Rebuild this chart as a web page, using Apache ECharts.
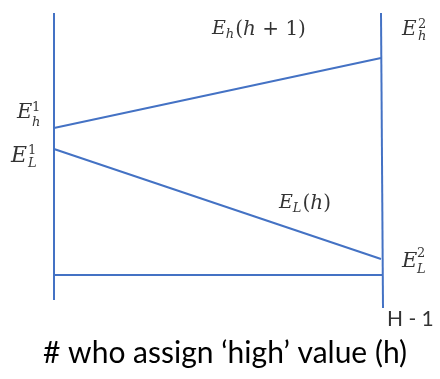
<!DOCTYPE html>
<html><head><meta charset="utf-8">
<script src="https://cdn.jsdelivr.net/npm/echarts@6/dist/echarts.min.js"></script>
<style>html,body{margin:0;padding:0;background:#fff}#c{width:440px;height:379px}</style>
</head><body><div id="c"></div>
<script>
// ---- data (arbitrary units: h along x, expected value E along y) ----
const hRange = [0, 330];
const eRange = [-40, 262];
const leftAxisLine = [[0, 262], [0, -25]];
const rightAxisLine = [[327, 262], [329, -33]];
const baseLine = [[0, 0], [329, 0]];
const highLine = [[0, 147], [327, 217]];   // E_h : from E_h^1 to E_h^2
const lowLine = [[0, 126], [327, 16]];     // E_L : from E_L^1 to E_L^2
const funcLabelText = ['{E|E}{sub|h}{p|(}{i|h}{p| + 1)}', '{E|E}{sub|L}{p|(}{i|h}{p|)}'];
const funcLabelAt = [[158, 245.5], [225, 71.5]];
const endLabelBase = ['E', 'E', 'E', 'E'];
const endLabelSup = ['1', '1', '2', '2'];
const endLabelSub = ['h', 'L', 'h', 'L'];
const endTickLabel = 'H - 1';
const xTitle = '# who assign \u2018high\u2019 value (h)';

const BLUE = '#4472C4';
const MATH = 'DejaVu Serif';
const rich = {
  E: {fontFamily: MATH, fontStyle: 'italic', fontSize: 19, lineHeight: 24, color: '#000'},
  i: {fontFamily: MATH, fontStyle: 'italic', fontSize: 20, lineHeight: 24, color: '#000'},
  p: {fontFamily: MATH, fontSize: 20, lineHeight: 24, color: '#000'},
  sub: {fontFamily: MATH, fontStyle: 'italic', fontSize: 13, lineHeight: 10, verticalAlign: 'bottom', color: '#000', padding: [0, 1, 0, 0]}
};

function lineSeries(data) {
  return {type: 'line', data: data, symbol: 'none', silent: true, clip: false,
    lineStyle: {color: BLUE, width: 2}, animation: false};
}

// anchors for end labels: E_h^1, E_L^1 (left ends), E_h^2 (top of right axis), E_L^2 (right end of E_L)
const endAnchors = [highLine[0], lowLine[0], rightAxisLine[0], lowLine[1]];
const baseOffsets = [[-37, -15.5], [-43, 7], [21, 16.5], [21, 3]];
const baseSizes = [21, 22, 20, 21];
const scriptOffsets = [[-22, -13], [-26, 8], [37, 18], [36, 2.5]];
const scriptLH = [14.5, 13.5, 12, 16];

const labelData = [];
funcLabelText.forEach((t, k) => {
  labelData.push({value: funcLabelAt[k], label: {show: true, position: [0, 0], align: 'left', verticalAlign: 'middle', formatter: t, rich: rich}});
});
endAnchors.forEach((a, k) => {
  labelData.push({value: a, label: {show: true, position: baseOffsets[k], align: 'left', verticalAlign: 'middle',
    formatter: '{b|' + endLabelBase[k] + '}',
    rich: {b: {fontFamily: MATH, fontStyle: 'italic', fontSize: baseSizes[k], lineHeight: 24, color: '#000'}}}});
  labelData.push({value: a, label: {show: true, position: scriptOffsets[k], align: 'left', verticalAlign: 'middle',
    formatter: '{sp|' + endLabelSup[k] + '}\n{sb|' + endLabelSub[k] + '}',
    rich: {sp: {fontFamily: MATH, fontSize: 13, lineHeight: scriptLH[k], color: '#000'},
           sb: {fontFamily: MATH, fontStyle: 'italic', fontSize: 13, lineHeight: scriptLH[k], color: '#000'}}}});
});
labelData.push({value: rightAxisLine[1], label: {show: true, position: [4, 11], align: 'left', verticalAlign: 'middle',
  formatter: endTickLabel, fontFamily: 'Lato', fontSize: 21, color: '#000'}});

const chart = echarts.init(document.getElementById('c'), null, {renderer: 'canvas'});
chart.setOption({
  animation: false,
  backgroundColor: '#fff',
  title: {text: xTitle, left: 43, top: 338, padding: 0,
    textStyle: {fontFamily: 'Lato', fontSize: 30, fontWeight: 'normal', color: '#000'}},
  grid: {left: 54, right: 56, top: 13, bottom: 64},
  xAxis: {type: 'value', min: hRange[0], max: hRange[1], show: false},
  yAxis: {type: 'value', min: eRange[0], max: eRange[1], show: false},
  series: [
    lineSeries(leftAxisLine), lineSeries(rightAxisLine), lineSeries(baseLine),
    lineSeries(highLine), lineSeries(lowLine),
    {type: 'scatter', symbolSize: 0, silent: true, clip: false, data: labelData, animation: false}
  ]
});
</script></body></html>
